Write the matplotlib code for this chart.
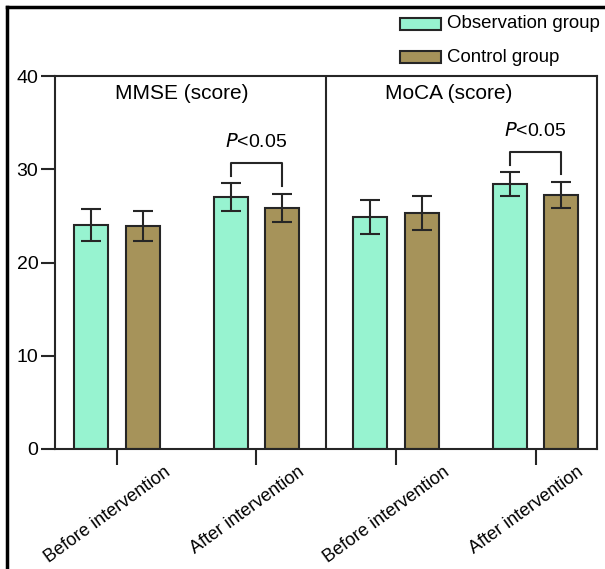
import matplotlib
matplotlib.use("Agg")
import matplotlib.pyplot as plt
import matplotlib.transforms as mtransforms
from matplotlib.lines import Line2D
from matplotlib.patches import Rectangle
import numpy as np

plt.rcParams['font.family'] = ['Liberation Sans', 'DejaVu Sans']

# scores, mean and SD per time point (MMSE before/after, MoCA before/after)
timepoints = ["Before intervention", "After intervention",
              "Before intervention", "After intervention"]
panels = ["MMSE (score)", "MoCA (score)"]
obs_mean = [24.0, 27.0, 24.9, 28.4]
obs_sd = [1.7, 1.5, 1.8, 1.3]
ctrl_mean = [23.9, 25.8, 25.3, 27.2]
ctrl_sd = [1.6, 1.5, 1.8, 1.4]
groups = ["Observation group", "Control group"]
sig_label = "P<0.05"
sig_at = [1, 3]

obs_color = '#97F3D0'
ctrl_color = '#A6935A'
edge = '#262626'

fig = plt.figure(figsize=(6.05, 5.69), dpi=100)
ax = fig.add_axes([0.0909, 0.2109, 0.8967, 0.6555])

x = np.arange(len(timepoints))
off = 0.186
w = 0.244
err_kw = dict(ecolor=edge, elinewidth=1.5, capsize=7, capthick=1.5)
ax.bar(x - off, obs_mean, w, yerr=obs_sd, color=obs_color, edgecolor=edge,
       linewidth=1.5, error_kw=err_kw, zorder=2)
ax.bar(x + off, ctrl_mean, w, yerr=ctrl_sd, color=ctrl_color, edgecolor=edge,
       linewidth=1.5, error_kw=err_kw, zorder=2)

ax.set_xlim(-0.4444, 3.4444)
ax.set_ylim(0, 40)
ax.set_yticks([0, 10, 20, 30, 40])

for s in ax.spines.values():
    s.set_linewidth(1.5)
    s.set_color(edge)
ax.axvline(1.5, color=edge, lw=1.5)

ax.tick_params(axis='y', length=10, width=1.5, labelsize=14, pad=2, color=edge)
ax.tick_params(axis='x', length=11.5, width=1.5, labelsize=13, pad=-1, color=edge)
ax.set_xticks(x)
ax.set_xticklabels(timepoints, rotation=36, ha='center', va='top')
shift = mtransforms.ScaledTranslation(-9 / 100, 0, fig.dpi_scale_trans)
for lbl in ax.get_xticklabels():
    lbl.set_transform(lbl.get_transform() + shift)

# panel titles
ax.text(0.466, 38.1, panels[0], ha='center', va='center', fontsize=15)
ax.text(2.38, 38.1, panels[1], ha='center', va='center', fontsize=15)

# significance brackets
for i in sig_at:
    top = max(obs_mean[i] + obs_sd[i], ctrl_mean[i] + ctrl_sd[i]) + 2.2
    ax.plot([i - off, i - off, i + off, i + off],
            [obs_mean[i] + obs_sd[i] + 0.8, top, top, ctrl_mean[i] + ctrl_sd[i] + 0.9],
            color=edge, lw=1.5, zorder=3)
    ax.text(i, top + 2.2, "$\\it{P}$<0.05", ha='center', va='center', fontsize=14)

# legend at top right
for k, (name, col) in enumerate(zip(groups, [obs_color, ctrl_color])):
    yc = 1 - (24 + 33 * k) / 569
    fig.add_artist(Rectangle((400 / 605, yc - 6 / 569), 41 / 605, 12 / 569,
                             transform=fig.transFigure, facecolor=col,
                             edgecolor=edge, linewidth=1.5))
    fig.text(447 / 605, yc, name, ha='left', va='center', fontsize=13.4)

# outer frame lines
fig.add_artist(Line2D([7 / 605, 7 / 605], [0, 1 - 7 / 569], color='black', lw=2.5,
                      transform=fig.transFigure))
fig.add_artist(Line2D([7 / 605, 1], [1 - 7 / 569, 1 - 7 / 569], color='black', lw=2.5,
                      transform=fig.transFigure))

fig.savefig("out.png", dpi=100)
